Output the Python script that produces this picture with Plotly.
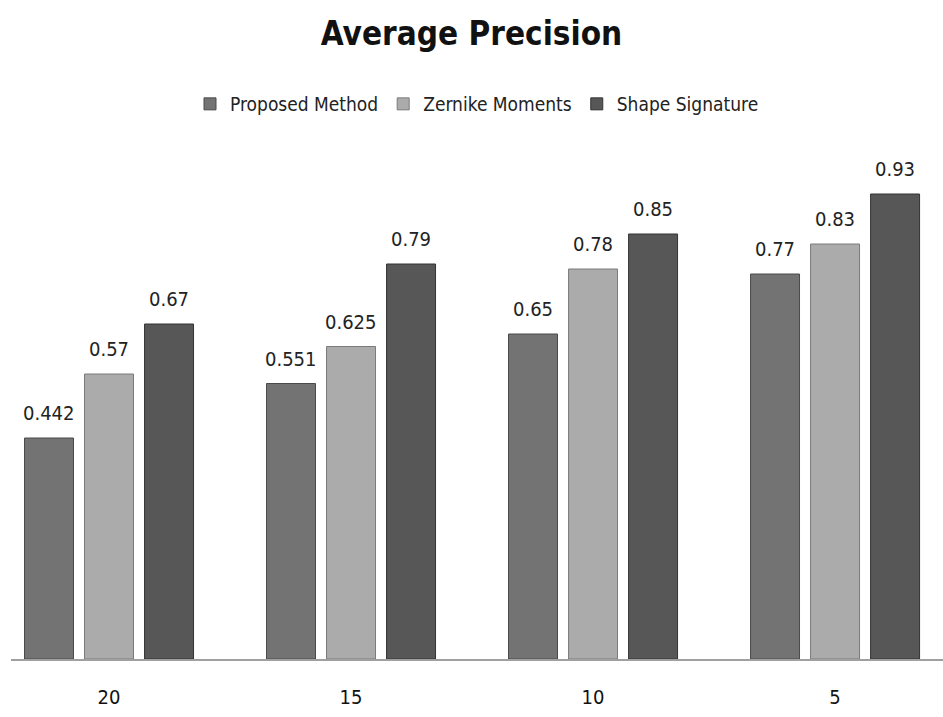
import plotly.graph_objects as go

categories = ["20", "15", "10", "5"]
proposed = [0.442, 0.551, 0.65, 0.77]
zernike = [0.57, 0.625, 0.78, 0.83]
shape_sig = [0.67, 0.79, 0.85, 0.93]

FONT = "Liberation Sans Narrow, DejaVu Sans Condensed, Arial Narrow, sans-serif"

series = [
    ("Proposed Method", proposed, "#737373", "#4a4a4a"),
    ("Zernike Moments", zernike, "#ababab", "#7a7a7a"),
    ("Shape Signature", shape_sig, "#575757", "#333333"),
]

fig = go.Figure()
annotations = []
for i, (name, vals, col, edge) in enumerate(series):
    fig.add_trace(go.Bar(
        name=name, x=categories, y=vals,
        marker=dict(color=col, line=dict(color=edge, width=1)),
    ))
    for j, v in enumerate(vals):
        annotations.append(dict(
            x=j, y=v, xref="x", yref="y", text=str(v), showarrow=False,
            xshift=(i - 1) * 60, yshift=25, yanchor="middle", xanchor="center",
            font=dict(family=FONT, size=20, color="#222222"),
        ))

fig.update_layout(
    width=943, height=717,
    paper_bgcolor="white", plot_bgcolor="white",
    margin=dict(l=11, r=0, t=150, b=58),
    barmode="group", bargap=0.256, bargroupgap=0.184,
    title=dict(text="<b>Average Precision</b>", x=0.5, xanchor="center",
               y=1 - 33 / 717, yanchor="middle",
               font=dict(family=FONT, size=33, color="#111111")),
    legend=dict(orientation="h", x=0.5, xanchor="center", y=1 - 104 / 717, yref="container",
                yanchor="middle", font=dict(family=FONT, size=19, color="#222222"),
                traceorder="normal"),
    showlegend=True,
    annotations=annotations,
    xaxis=dict(type="category", range=[-0.405, 3.446], showgrid=False,
               showline=True, linecolor="#a0a0a0", linewidth=2,
               ticks="", tickfont=dict(family=FONT, size=20, color="#111111"),
               ticklabelstandoff=19),
    yaxis=dict(range=[0, 1.018], visible=False, showgrid=False),
)

fig.write_html("out.html", config={"displayModeBar": False},
               post_script="document.body.style.margin='0';document.body.style.overflow='hidden';")
